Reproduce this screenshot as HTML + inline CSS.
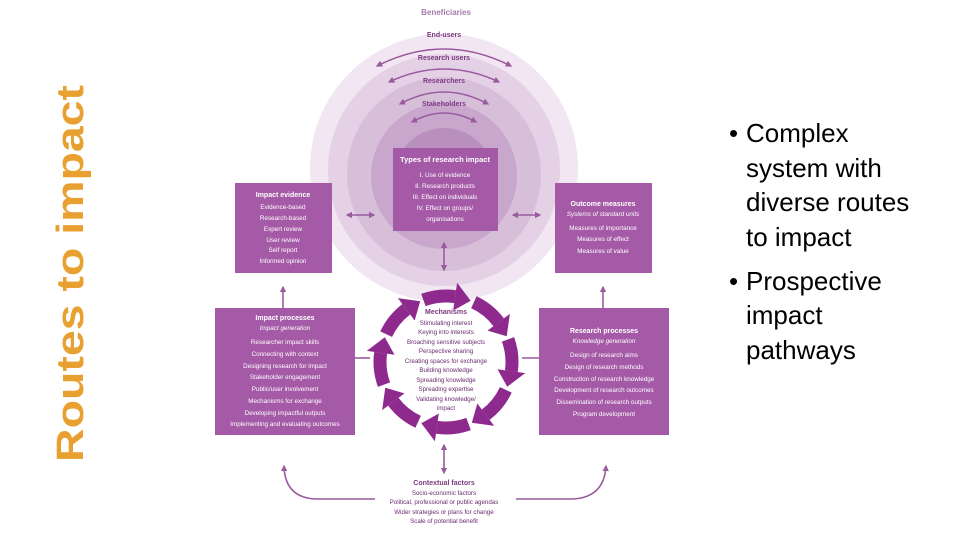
<!DOCTYPE html>
<html><head><meta charset="utf-8"><style>
html,body{margin:0;padding:0;background:#fff;width:960px;height:540px;overflow:hidden}
svg{display:block}
text{font-family:"Liberation Sans",sans-serif}
</style></head><body>
<svg width="960" height="540" viewBox="0 0 960 540" xmlns="http://www.w3.org/2000/svg">
<defs>
<marker id="ah" viewBox="0 0 10 10" refX="8" refY="5" markerWidth="4" markerHeight="4" orient="auto-start-reverse"><path d="M0,0 L10,5 L0,10 z" fill="#9a5a9e"/></marker>
</defs>
<text transform="translate(83,462) rotate(-90)" font-size="38" font-weight="bold" fill="#e8a030" textLength="377" lengthAdjust="spacingAndGlyphs">Routes to impact</text>

<!-- circles -->
<circle cx="444" cy="168" r="134" fill="#f1e6f2"/>
<circle cx="444" cy="170" r="116" fill="#e4d1e6"/>
<circle cx="444" cy="174" r="97" fill="#d7bfda"/>
<circle cx="444" cy="176" r="73" fill="#c9a7cd"/>
<circle cx="444" cy="178" r="50" fill="#b98fbe"/>
<text x="446" y="15" font-size="8" font-weight="bold" fill="#a77aab" text-anchor="middle">Beneficiaries</text>
<text x="444" y="37" font-size="7" font-weight="bold" fill="#7b3a80" text-anchor="middle">End-users</text>
<text x="444" y="60" font-size="7" font-weight="bold" fill="#7b3a80" text-anchor="middle">Research users</text>
<text x="444" y="83" font-size="7" font-weight="bold" fill="#7b3a80" text-anchor="middle">Researchers</text>
<text x="444" y="106" font-size="7" font-weight="bold" fill="#7b3a80" text-anchor="middle">Stakeholders</text>
<g fill="none" stroke="#9a5a9e" stroke-width="1.6" marker-start="url(#ah)" marker-end="url(#ah)">
<path d="M377,66 Q444,32 511,66"/>
<path d="M389,82 Q444,56 499,82"/>
<path d="M400,104 Q444,80 488,104"/>
<path d="M412,122 Q444,104 476,122"/>
</g>

<!-- boxes -->
<g fill="#a45aa6">
<rect x="393" y="148" width="105" height="83"/>
<rect x="235" y="183" width="97" height="90"/>
<rect x="555" y="183" width="97" height="90"/>
<rect x="215" y="308" width="140" height="127"/>
<rect x="539" y="308" width="130" height="127"/>
</g>
<g fill="#fff" font-size="6.3" text-anchor="middle">
<text x="445" y="162" font-size="7.5" font-weight="bold">Types of research impact</text>
<text x="445" y="177">I. Use of evidence</text>
<text x="445" y="188">II. Research products</text>
<text x="445" y="199">III. Effect on individuals</text>
<text x="445" y="210">IV. Effect on groups/</text>
<text x="445" y="221">organisations</text>

<text x="283" y="197" font-size="7" font-weight="bold">Impact evidence</text>
<text x="283" y="209">Evidence-based</text>
<text x="283" y="220">Research-based</text>
<text x="283" y="231">Expert review</text>
<text x="283" y="242">User review</text>
<text x="283" y="252">Self report</text>
<text x="283" y="263">Informed opinion</text>

<text x="603" y="206" font-size="7" font-weight="bold">Outcome measures</text>
<text x="603" y="216" font-style="italic">Systems of standard units</text>
<text x="603" y="230">Measures of importance</text>
<text x="603" y="241">Measures of effect</text>
<text x="603" y="253">Measures of value</text>

<text x="285" y="320" font-size="7" font-weight="bold">Impact processes</text>
<text x="285" y="330" font-style="italic">Impact generation</text>
<text x="285" y="344">Researcher impact skills</text>
<text x="285" y="356">Connecting with context</text>
<text x="285" y="368">Designing research for impact</text>
<text x="285" y="379">Stakeholder engagement</text>
<text x="285" y="391">Public/user involvement</text>
<text x="285" y="403">Mechanisms for exchange</text>
<text x="285" y="415">Developing impactful outputs</text>
<text x="285" y="426">Implementing and evaluating outcomes</text>

<text x="604" y="333" font-size="7" font-weight="bold">Research processes</text>
<text x="604" y="343" font-style="italic">Knowledge generation</text>
<text x="604" y="357">Design of research aims</text>
<text x="604" y="369">Design of research methods</text>
<text x="604" y="381">Construction of research knowledge</text>
<text x="604" y="392">Development of research outcomes</text>
<text x="604" y="404">Dissemination of research outputs</text>
<text x="604" y="416">Program development</text>
</g>

<!-- connectors -->
<g stroke="#9a5a9e" stroke-width="1.6" fill="none">
<path d="M347,215 L374,215" marker-start="url(#ah)" marker-end="url(#ah)"/>
<path d="M513,215 L540,215" marker-start="url(#ah)" marker-end="url(#ah)"/>
<path d="M444,243 L444,270" marker-start="url(#ah)" marker-end="url(#ah)"/>
<path d="M444,445 L444,473" marker-start="url(#ah)" marker-end="url(#ah)"/>
<path d="M283,308 L283,287" marker-end="url(#ah)"/>
<path d="M603,308 L603,287" marker-end="url(#ah)"/>
<path d="M355,358 L370,358"/>
<path d="M522,358 L539,358"/>
<path d="M375,499 L318,499 Q285,499 284,466" marker-end="url(#ah)"/>
<path d="M516,499 L570,499 Q604,499 606,466" marker-end="url(#ah)"/>
</g>

<!-- mechanism ring -->
<g fill="#8e2a8e" stroke="none">
<g id="seg"><path d="M508,339.4 A66,66 0 0 1 511.36,371.19" stroke="#8e2a8e" stroke-width="13" fill="none"/><polygon points="497.5,369.2 525.2,373.1 507.2,386.7"/></g>
<use href="#seg" transform="rotate(45 446 362)"/>
<use href="#seg" transform="rotate(90 446 362)"/>
<use href="#seg" transform="rotate(135 446 362)"/>
<use href="#seg" transform="rotate(180 446 362)"/>
<use href="#seg" transform="rotate(225 446 362)"/>
<use href="#seg" transform="rotate(270 446 362)"/>
<use href="#seg" transform="rotate(315 446 362)"/>
</g>
<g fill="#6a2a70" font-size="6.2" text-anchor="middle">
<text x="446" y="314" font-size="7" font-weight="bold" fill="#7b3a80">Mechanisms</text>
<text x="446" y="325">Stimulating interest</text>
<text x="446" y="334">Keying into interests</text>
<text x="446" y="344">Broaching sensitive subjects</text>
<text x="446" y="353">Perspective sharing</text>
<text x="446" y="363">Creating spaces for exchange</text>
<text x="446" y="372">Building knowledge</text>
<text x="446" y="382">Spreading knowledge</text>
<text x="446" y="391">Spreading expertise</text>
<text x="446" y="401">Validating knowledge/</text>
<text x="446" y="410">impact</text>

<text x="444" y="485" font-size="7" font-weight="bold" fill="#7b3a80">Contextual factors</text>
<text x="444" y="495">Socio-economic factors</text>
<text x="444" y="504">Political, professional or public agendas</text>
<text x="444" y="514">Wider strategies or plans for change</text>
<text x="444" y="523">Scale of potential benefit</text>
</g>

<!-- bullets -->
<g font-size="26" fill="#000">
<text x="729" y="142">•</text>
<text x="746" y="142">Complex</text>
<text x="746" y="177">system with</text>
<text x="746" y="211">diverse routes</text>
<text x="746" y="246">to impact</text>
<text x="729" y="290">•</text>
<text x="746" y="290">Prospective</text>
<text x="746" y="324">impact</text>
<text x="746" y="359">pathways</text>
</g>
</svg>
</body></html>
